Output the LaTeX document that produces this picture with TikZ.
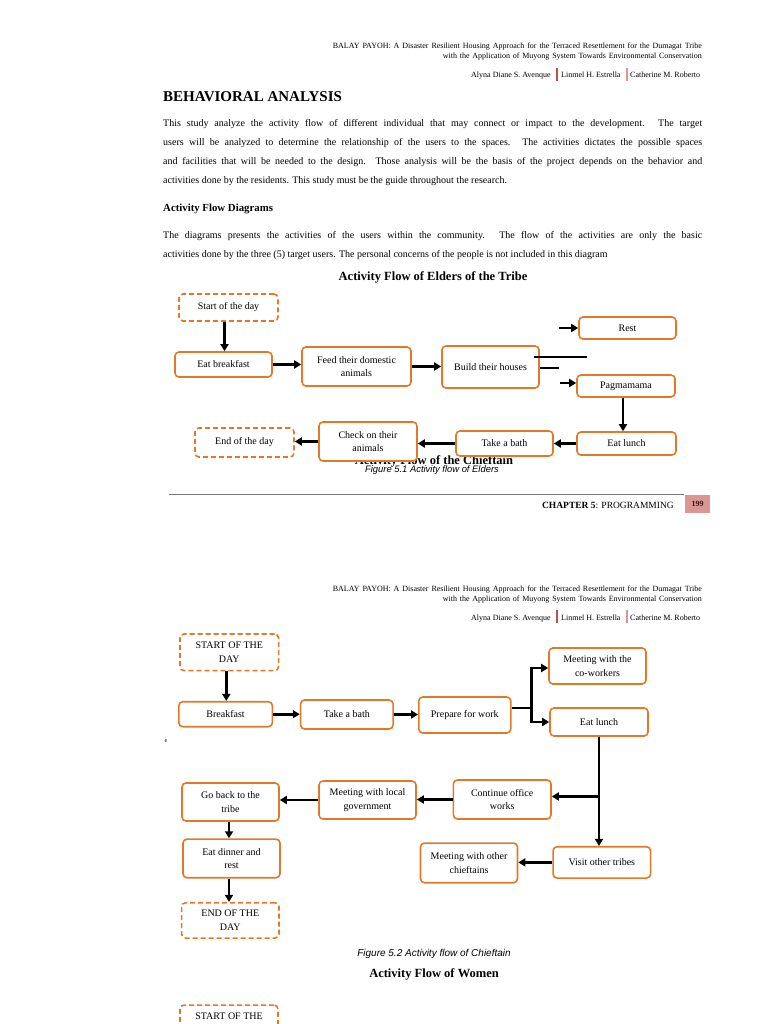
\documentclass[tikz,border=0pt]{standalone}
\usepackage{fontspec}
\setmainfont{Liberation Serif}
\setsansfont{Liberation Sans}
\usetikzlibrary{arrows.meta}
\usepackage{xcolor}
\definecolor{boxline}{RGB}{226,120,40}
\definecolor{barred}{RGB}{192,80,77}
\definecolor{barpink}{RGB}{217,150,148}
\definecolor{pagebox}{RGB}{217,150,148}
\definecolor{rulegray}{RGB}{118,118,118}
\definecolor{pagenum}{RGB}{60,20,20}

\begin{document}
\begin{tikzpicture}[x=1pt, y=-1pt,
    box/.style     = {rectangle, rounded corners=4pt, draw=boxline, line width=1.6pt,
                      fill=white, align=center, inner sep=1pt,
                      font=\fontsize{10}{13.5}\selectfont},
    ends/.style    = {box, dash pattern=on 5pt off 3pt},
    sz/.style 2 args = {minimum width=#1pt, minimum height=#2pt},
    arrow/.style   = {-{Triangle[length=7pt,width=8pt]}, line width=2.6pt},
    link/.style    = {line width=2.6pt},
    hdr/.style     = {inner sep=0pt, font=\fontsize{8}{9}\selectfont},
    body/.style    = {anchor=base west, inner sep=0pt, font=\fontsize{10}{19}\selectfont},
    heading/.style = {anchor=base west, inner sep=0pt, font=\fontsize{15}{17}\selectfont\bfseries},
    subhead/.style = {anchor=base west, inner sep=0pt, font=\fontsize{10.8}{13}\selectfont\bfseries},
    ftitle/.style  = {anchor=base, inner sep=0pt, font=\fontsize{12.5}{15}\selectfont\bfseries},
    caption/.style = {anchor=base, inner sep=0pt, font=\sffamily\itshape},
]
\clip (0,0) rectangle (768,1024);
\fill[white] (0,0) rectangle (768,1024);

% ── Running headers (both pages) ────────────────────────────────
\foreach \off in {0,542}{
  \node[hdr, anchor=base east] (hdra\off) at (702,49+\off)
    {\makebox[369pt][s]{BALAY PAYOH: A Disaster Resilient Housing Approach for the Terraced Resettlement for the Dumagat Tribe}};
  \node[hdr, anchor=base east] (hdrb\off) at (702,59+\off)
    {\makebox[259pt][s]{with the Application of Muyong System Towards Environmental Conservation}};
  \node[hdr, anchor=base west] (aua\off) at (471,78+\off) {Alyna Diane S. Avenque};
  \node[hdr, anchor=base west] (aub\off) at (561,78+\off) {Linmel H. Estrella};
  \node[hdr, anchor=base west] (auc\off) at (630,78+\off) {Catherine M. Roberto};
  \draw[barred, line width=1.3pt] (557,68+\off) -- (557,81+\off);
  \draw[barpink, line width=1.3pt] (627,68+\off) -- (627,81+\off);
}

% ── Page text ───────────────────────────────────────────────────
\node[heading] (behav) at (163,102) {BEHAVIORAL ANALYSIS};
\node[body] (pa1) at (163,127) {\makebox[539pt][s]{This study analyze the activity flow of different individual that may connect or impact to the development. The target}};
\node[body] (pa2) at (163,146) {\makebox[539pt][s]{users will be analyzed to determine the relationship of the users to the spaces. The activities dictates the possible spaces}};
\node[body] (pa3) at (163,165) {\makebox[539pt][s]{and facilities that will be needed to the design. Those analysis will be the basis of the project depends on the behavior and}};
\node[body] (pa4) at (163,184) {activities done by the residents. This study must be the guide throughout the research.};
\node[subhead] (afd) at (163,212) {Activity Flow Diagrams};
\node[body] (pb1) at (163,238.5) {\makebox[539pt][s]{The diagrams presents the activities of the users within the community. The flow of the activities are only the basic}};
\node[body] (pb2) at (163,258) {activities done by the three (5) target users. The personal concerns of the people is not included in this diagram};

% ── Elders diagram ──────────────────────────────────────────────
\node[ftitle] (ttlelder) at (433,280) {Activity Flow of Elders of the Tribe};
\node[ftitle] (ttlchief) at (434,464) {Activity Flow of the Chieftain};

\node[ends, sz={99}{27}] (estart) at (228.5,307.5) {Start of the day};
\node[box, sz={97}{25}] (ebreak) at (223.5,364.5) {Eat breakfast};
\node[box, sz={109}{39}] (efeed) at (356.5,366.5) {Feed their domestic\\animals};
\node[box, sz={97}{42}] (ebuild) at (490.5,367) {Build their houses};
\node[box, sz={97}{22}] (erest) at (627.5,328) {Rest};
\node[box, sz={98}{22}] (epag) at (626,386) {Pagmamama};
\node[box, sz={99}{23}] (elunch) at (626.5,443.5) {Eat lunch};
\node[box, sz={97}{25}] (ebath) at (504.5,443.5) {Take a bath};
\node[box, sz={98}{39}] (echeck) at (368,441.5) {Check on their\\animals};
\node[ends, sz={99}{29}] (eend) at (244.5,442.5) {End of the day};

\coordinate (etop) at (587,357);
\coordinate (elow) at (559,368);

\draw[arrow] ([xshift=-4pt]estart.south) -- ([xshift=-4pt]estart.south |- ebreak.north);
\draw[arrow] (ebreak.east) -- (ebreak.east -| efeed.west);
\draw[arrow] (efeed.east) -- (efeed.east -| ebuild.west);
\draw[link] ([xshift=-6pt]ebuild.east |- etop) -- (etop);
\draw[link] (ebuild.east |- elow) -- (elow);
\draw[arrow] ([xshift=-19pt]erest.west) -- (erest.west);
\draw[arrow] ([xshift=-16pt,yshift=3pt]epag.west) -- ([yshift=3pt]epag.west);
\draw[arrow] ([xshift=-3pt]epag.south) -- ([xshift=-3pt]epag.south |- elunch.north);
\draw[arrow] (elunch.west) -- (ebath.east);
\draw[arrow] (ebath.west) -- (ebath.west -| echeck.east);
\draw[arrow] (echeck.west) -- (echeck.west -| eend.east);

\node[caption, font=\sffamily\itshape\fontsize{9.4}{11}\selectfont] (capelder) at (432,472.5)
  {Figure 5.1 Activity flow of Elders};

% ── Footer ──────────────────────────────────────────────────────
\draw[rulegray, line width=1.5pt] (169,494.5) -- (684,494.5);
\node[anchor=base east, inner sep=0pt, font=\fontsize{9.5}{11}\selectfont] (chap) at (674,508.5)
  {\textbf{CHAPTER 5}: PROGRAMMING};
\node[fill=pagebox, minimum width=25pt, minimum height=18pt, inner sep=0pt,
      text=pagenum, font=\fontsize{8}{9}\selectfont\bfseries] (pgno) at (697.5,504) {199};

% ── Chieftain diagram ───────────────────────────────────────────
\node[ends, sz={98.6}{36.7}] (cstart) at (229.3,652.3) {START OF THE\\DAY};
\node[box, sz={93.6}{25}] (cbreak) at (225.6,714.2) {Breakfast};
\node[box, sz={92.5}{29}] (cbath) at (346.8,714.5) {Take a bath};
\node[box, sz={92}{36}] (cprep) at (464.8,715) {Prepare for work};
\node[box, sz={97}{36}] (ccowork) at (597.5,666) {Meeting with the\\co-workers};
\node[box, sz={98}{28}] (clunch) at (599,722) {Eat lunch};
\node[box, sz={97.6}{39}] (ccont) at (502.2,799.5) {Continue office\\works};
\node[box, sz={97}{38}] (clocal) at (367.5,800) {Meeting with local\\government};
\node[box, sz={97}{38}] (cback) at (230.5,802) {Go back to the\\tribe};
\node[box, sz={97}{38.7}] (cdinner) at (231.5,858.4) {Eat dinner and\\rest};
\node[ends, sz={97.4}{35.3}] (cend) at (230.3,920.4) {END OF THE\\DAY};
\node[box, sz={97}{39.7}] (cother) at (469,862.9) {Meeting with other\\chieftains};
\node[box, sz={97.5}{31.3}] (cvisit) at (601.8,862.4) {Visit other tribes};

\node[inner sep=0pt, font=\fontsize{6}{7}\selectfont] (stray) at (166,741.5) {e};

\draw[arrow] ([xshift=-3pt]cstart.south) -- ([xshift=-3pt]cstart.south |- cbreak.north);
\draw[arrow] (cbreak.east) -- (cbreak.east -| cbath.west);
\draw[arrow] (cbath.east) -- (cbath.east -| cprep.west);
\draw[link] ([yshift=7pt]cprep.east) -- ++(20,0) coordinate (cfork);
\draw[arrow] ([yshift=-1pt]cfork) |- ([yshift=-2pt]ccowork.west);
\draw[arrow] ([yshift=1pt]cfork) |- (clunch.west);
\draw[arrow] (clunch.south) -- (clunch.south |- cvisit.north);
\draw[arrow] ([yshift=3pt]clunch.south |- ccont.east) -- ([yshift=3pt]ccont.east);
\draw[arrow] (ccont.west) -- (ccont.west -| clocal.east);
\draw[arrow] (clocal.west) -- (clocal.west -| cback.east);
\draw[arrow] ([xshift=-1.5pt]cback.south) -- ([xshift=-1.5pt]cback.south |- cdinner.north);
\draw[arrow] ([xshift=-2.5pt]cdinner.south) -- ([xshift=-2.5pt]cdinner.south |- cend.north);
\draw[arrow] (cvisit.west) -- (cvisit.west -| cother.east);

\node[caption, font=\sffamily\itshape\fontsize{10}{12}\selectfont] (capchief) at (434,956.5)
  {Figure 5.2 Activity flow of Chieftain};

% ── Women diagram (top of next part) ────────────────────────────
\node[ftitle] (ttlwomen) at (434,977) {Activity Flow of Women};
\node[ends, sz={98}{36.7}] (wstart) at (229,1023.4) {START OF THE\\\phantom{DAY}};

\end{tikzpicture}
\end{document}
